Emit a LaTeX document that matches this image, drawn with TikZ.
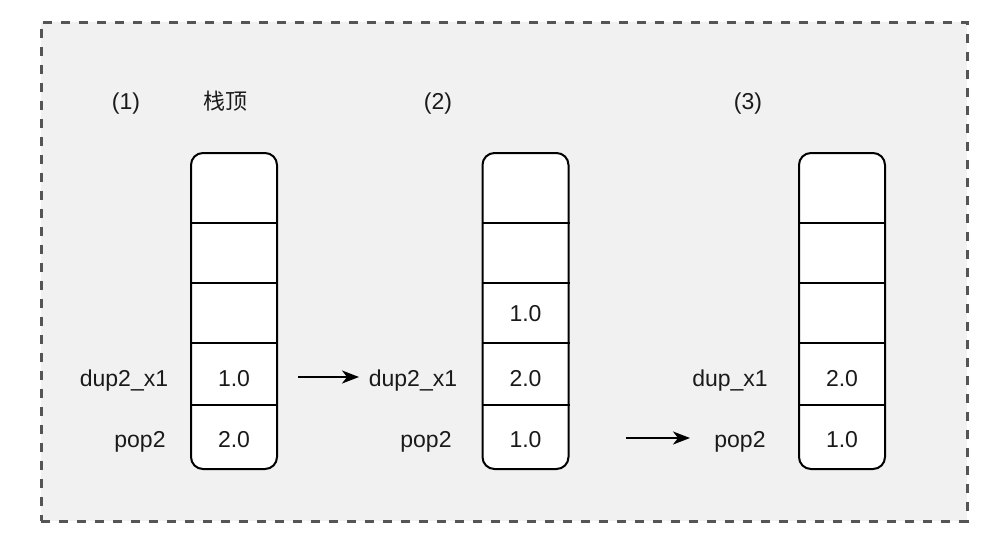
\documentclass[tikz,border=0pt]{standalone}
\usepackage{fontspec}
\setmainfont{Liberation Sans}
\newfontfamily\cjk{Noto Sans CJK SC}
\usetikzlibrary{arrows.meta}
\definecolor{bgfill}{HTML}{F1F1F1}
\definecolor{dashcol}{HTML}{555555}
\definecolor{txt}{HTML}{1A1A1A}
\tikzset{
  stackbox/.style={draw=black, line width=2pt, fill=white, rounded corners=12pt,
    minimum width=86pt, minimum height=316pt, inner sep=0pt},
  lbl/.style={font=\fontsize{23}{27}\selectfont, text=txt, anchor=base, inner sep=0pt},
  divider/.style={draw=black, line width=2pt},
  flow/.style={draw=black, line width=2pt, -{Stealth[length=17pt,width=13pt,inset=5pt]}},
}
\begin{document}
\begin{tikzpicture}[x=1pt,y=-1pt]
\useasboundingbox (0,0) rectangle (1002,550);
\node[draw=dashcol, fill=bgfill, line width=3pt, dash pattern=on 9pt off 9pt,
  minimum width=926pt, minimum height=499pt, inner sep=0pt] (frame) at (504,271.5) {};

% stacks
\node[stackbox] (s1) at (234,311) {};
\node[stackbox] (s2) at (525.5,311) {};
\node[stackbox] (s3) at (842,311) {};
\foreach \s in {s1,s2,s3}{
  \foreach \yy in {223,283,343,405}{
    \draw[divider] (\s.west |- 0,\yy) -- (\s.east |- 0,\yy);
  }
}

% headers
\node[lbl] (h1) at (126,109) {(1)};
\node[lbl, font=\cjk\fontsize{22}{26}\selectfont] (top) at (225,109) {栈顶};
\node[lbl] (h2) at (438,109) {(2)};
\node[lbl] (h3) at (748,109) {(3)};

% stack 1
\node[lbl] (c1a) at (234,386) {1.0};
\node[lbl] (c1b) at (234,447) {2.0};
\node[lbl] (l1a) at (124,386) {dup2\_x1};
\node[lbl] (l1b) at (140,447) {pop2};

% stack 2
\node[lbl] (c2c) at (525.5,321) {1.0};
\node[lbl] (c2a) at (525.5,386) {2.0};
\node[lbl] (c2b) at (525.5,447) {1.0};
\node[lbl] (l2a) at (413,386) {dup2\_x1};
\node[lbl] (l2b) at (426,447) {pop2};

% stack 3
\node[lbl] (c3a) at (842,386) {2.0};
\node[lbl] (c3b) at (842,447) {1.0};
\node[lbl] (l3a) at (730,386) {dup\_x1};
\node[lbl] (l3b) at (740,447) {pop2};

% arrows
\coordinate (a1s) at (298,377);
\coordinate (a1e) at (359,377);
\coordinate (a2s) at (626,438);
\coordinate (a2e) at (690,438);
\draw[flow] (a1s) -- (a1e);
\draw[flow] (a2s) -- (a2e);
\end{tikzpicture}
\end{document}
